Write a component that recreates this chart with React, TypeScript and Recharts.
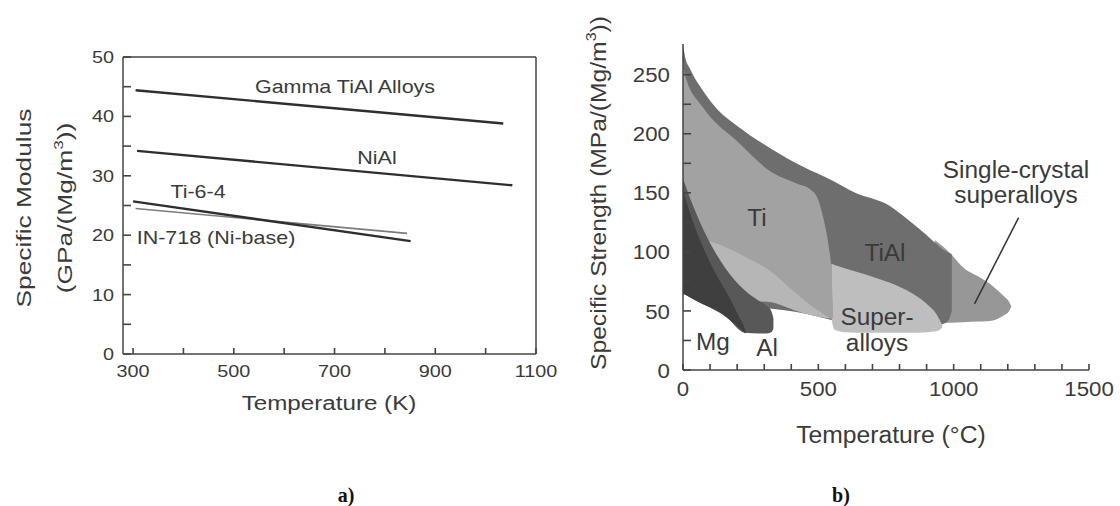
import React from "react";
import { LineChart, ComposedChart, Line, Area, XAxis, YAxis } from "recharts";

// panel a) specific modulus, GPa/(Mg/m3) vs temperature (K)
const gammaTiAl = [{ t: 305, v: 44.4 }, { t: 1035, v: 38.8 }];
const niAl = [{ t: 308, v: 34.2 }, { t: 1053, v: 28.4 }];
const ti64 = [{ t: 300, v: 25.7 }, { t: 851, v: 19.0 }];
const in718 = [{ t: 305, v: 24.5 }, { t: 844, v: 20.3 }];
const aTicksX = [300, 400, 500, 600, 700, 800, 900, 1000, 1100];
const aLabelsX = [300, 500, 700, 900, 1100];
const aTicksY = [0, 5, 10, 15, 20, 25, 30, 35, 40, 45, 50];
const aLabelsY = [0, 10, 20, 30, 40, 50];

// panel b) specific strength bands, [low, high] MPa/(Mg/m3) vs temperature (C)
const singleCrystal = [
  { t: 930, r: [40, 110] }, { t: 991, r: [40, 98] }, { t: 1034, r: [40.5, 87] }, { t: 1096, r: [41, 78.5] },
  { t: 1145, r: [42, 71] }, { t: 1183, r: [46, 63] }, { t: 1205, r: [50, 57.5] }, { t: 1213, r: [53.5, 54] },
];
const tiAl = [
  { t: 0, r: [64, 276] }, { t: 8, r: [64, 265] }, { t: 26, r: [63, 255] }, { t: 75, r: [60, 236] },
  { t: 130, r: [57, 220] }, { t: 198, r: [55, 207] }, { t: 321, r: [52, 188] }, { t: 444, r: [48, 172] },
  { t: 555, r: [42, 160] }, { t: 636, r: [38, 150] }, { t: 763, r: [38, 139] }, { t: 827, r: [38, 128] },
  { t: 891, r: [38, 116] }, { t: 930, r: [38, 108] }, { t: 960, r: [39, 102] }, { t: 980, r: [42, 99.5] },
  { t: 993, r: [50, 98] },
];
const superalloys = [
  { t: 548, r: [44, 90] }, { t: 560, r: [34, 89] }, { t: 600, r: [32, 86] }, { t: 700, r: [31.5, 79] },
  { t: 830, r: [31.5, 67] }, { t: 900, r: [32, 56] }, { t: 940, r: [33, 46] }, { t: 958, r: [36, 38] },
];
const ti = [
  { t: 0, r: [64, 262] }, { t: 7, r: [64, 250] }, { t: 75, r: [61, 222] }, { t: 198, r: [59, 194] },
  { t: 331, r: [57.5, 167] }, { t: 420, r: [50, 158] }, { t: 470, r: [47, 153] }, { t: 500, r: [45.5, 144] },
  { t: 522, r: [44.5, 125] }, { t: 538, r: [44, 105] }, { t: 548, r: [43.5, 85] }, { t: 554, r: [43.5, 55] },
];
const tiLow = [
  { t: 80, r: [62, 110] }, { t: 124, r: [61, 107] }, { t: 220, r: [59, 97] }, { t: 321, r: [57.5, 84] },
  { t: 407, r: [51, 67] }, { t: 470, r: [46.5, 55] }, { t: 542, r: [43.5, 44] },
];
const al = [
  { t: 0, r: [65, 162] }, { t: 39, r: [60, 138] }, { t: 90, r: [54, 112] }, { t: 154, r: [46, 87] },
  { t: 230, r: [31.5, 67] }, { t: 281, r: [31, 58.5] }, { t: 306, r: [31, 55] }, { t: 326, r: [32, 50] },
  { t: 334, r: [35, 44] },
];
const mg = [
  { t: 0, r: [65, 152] }, { t: 30, r: [61, 130] }, { t: 70, r: [56, 106] }, { t: 120, r: [51, 82] },
  { t: 170, r: [43, 62] }, { t: 205, r: [36.5, 46] }, { t: 225, r: [32, 37] }, { t: 232, r: [31, 32] },
];
const leader = [{ t: 1077, v: 56 }, { t: 1240, v: 129 }];
const bTicksX = [0, 100, 200, 300, 400, 500, 600, 700, 800, 900, 1000, 1100, 1200, 1300, 1400, 1500];
const bLabelsX = [0, 500, 1000, 1500];
const bTicksY = [0, 25, 50, 75, 100, 125, 150, 175, 200, 225, 250];
const bLabelsY = [0, 50, 100, 150, 200, 250];

const FONT = "'Liberation Sans', Arial, sans-serif";
const TXT = "#3a3a3a";
const AX = "#444";

// inward tick mark plus optional label
const tick = (dx: number, dy: number, labels: number[], lx: number, ly: number, anchor: string, size: number, s: number) =>
  (p: any) => {
    const x = Number(p.x);
    const y = Number(p.y);
    const v = p.payload.value;
    return (
      <g>
        <path d={`M${x},${y}L${x + dx},${y + dy}`} stroke={AX} strokeWidth={1.6} fill="none" />
        {labels.includes(v) && (
          <text transform={`translate(${x + lx},${y + ly}) scale(${s},1)`} textAnchor={anchor} dy="0.36em"
            fontSize={size} fontFamily={FONT} fill={TXT}>{v}</text>
        )}
      </g>
    );
  };

const Lbl = ({ x, y, size, s = 1, rot = false, bold = false, serif = false, children }: any) => (
  <div style={{
    position: "absolute", left: x, top: y, whiteSpace: "nowrap", lineHeight: 1, fontSize: size,
    fontFamily: serif ? "'Liberation Serif', 'Times New Roman', serif" : FONT, fontWeight: bold ? 700 : 400,
    color: serif ? "#111" : TXT,
    transform: `translate(-50%,-50%) ${rot ? "rotate(-90deg) " : ""}scaleX(${s})`,
  }}>{children}</div>
);

const axisCommon = { tickSize: 0, tickMargin: 0, tickLine: false, interval: 0 as const, stroke: AX, strokeWidth: 1.5 };
const sup3 = <sup style={{ fontSize: "0.65em", verticalAlign: "0.7em" }}>3</sup>;

export default function App() {
  return (
    <div style={{ position: "absolute", left: 0, top: 0, width: 1120, height: 506, background: "#fff", overflow: "hidden" }}>
      <div style={{ position: "absolute", left: 0, top: 0 }}>
        <LineChart width={560} height={420} margin={{ top: 56, right: 23, bottom: 0, left: 0 }}>
          <Line xAxisId="b" yAxisId="l" data={gammaTiAl} dataKey="v" stroke="#2e2e2e" strokeWidth={2.4} dot={false} isAnimationActive={false} />
          <Line xAxisId="b" yAxisId="l" data={niAl} dataKey="v" stroke="#2e2e2e" strokeWidth={2.4} dot={false} isAnimationActive={false} />
          <Line xAxisId="b" yAxisId="l" data={in718} dataKey="v" stroke="#7c7c7c" strokeWidth={1.6} dot={false} isAnimationActive={false} />
          <Line xAxisId="b" yAxisId="l" data={ti64} dataKey="v" stroke="#2e2e2e" strokeWidth={2.4} dot={false} isAnimationActive={false} />
          <XAxis xAxisId="b" type="number" dataKey="t" domain={[280, 1100]} ticks={aTicksX} height={66}
            {...axisCommon} tick={tick(0, -6, aLabelsX, 0, 17, "middle", 16.5, 1.2)} />
          <XAxis xAxisId="t" orientation="top" type="number" dataKey="t" domain={[280, 1100]} ticks={aTicksX} height={1}
            {...axisCommon} tick={tick(0, 7, [], 0, 0, "middle", 16, 1)} />
          <YAxis yAxisId="l" type="number" domain={[0, 50]} ticks={aTicksY} width={123}
            {...axisCommon} tick={tick(8, 0, aLabelsY, -9, 0, "end", 16.5, 1.2)} />
          <YAxis yAxisId="r" orientation="right" type="number" domain={[0, 50]} ticks={aTicksY} width={1}
            {...axisCommon} tick={tick(-8, 0, [], 0, 0, "end", 16, 1)} />
        </LineChart>
      </div>

      <div style={{ position: "absolute", left: 580, top: 0 }}>
        <ComposedChart width={540} height={420} margin={{ top: 44, right: 31, bottom: 0, left: 0 }}>
          <Area data={singleCrystal} dataKey="r" type="monotone" stroke="none" fill="#979797" fillOpacity={1} isAnimationActive={false} />
          <Area data={tiAl} dataKey="r" type="monotone" stroke="none" fill="#6e6e6e" fillOpacity={1} isAnimationActive={false} />
          <Area data={superalloys} dataKey="r" type="monotone" stroke="none" fill="#bebebe" fillOpacity={1} isAnimationActive={false} />
          <Area data={ti} dataKey="r" type="monotone" stroke="none" fill="#a2a2a2" fillOpacity={1} isAnimationActive={false} />
          <Area data={tiLow} dataKey="r" type="monotone" stroke="none" fill="#b6b6b6" fillOpacity={1} isAnimationActive={false} />
          <Area data={al} dataKey="r" type="monotone" stroke="none" fill="#585858" fillOpacity={1} isAnimationActive={false} />
          <Area data={mg} dataKey="r" type="monotone" stroke="none" fill="#3f3f3f" fillOpacity={1} isAnimationActive={false} />
          <Line data={leader} dataKey="v" stroke="#333" strokeWidth={1.5} dot={false} isAnimationActive={false} />
          <XAxis type="number" dataKey="t" domain={[0, 1500]} ticks={bTicksX} height={50}
            {...axisCommon} tick={tick(0, -6, bLabelsX, 0, 18, "middle", 21, 1.06)} />
          <YAxis type="number" domain={[0, 275]} ticks={bTicksY} width={103}
            {...axisCommon} tick={tick(8, 0, bLabelsY, -13, 0, "end", 21, 1.06)} />
        </ComposedChart>
      </div>

      {/* panel a) texts */}
      <Lbl x={345} y={87} size={18.5} s={1.16}>Gamma TiAl Alloys</Lbl>
      <Lbl x={377} y={158} size={18.5} s={1.16}>NiAl</Lbl>
      <Lbl x={198} y={192} size={18.5} s={1.16}>Ti-6-4</Lbl>
      <Lbl x={216} y={238} size={18.5} s={1.16}>IN-718 (Ni-base)</Lbl>
      <Lbl x={25} y={208} size={19.5} s={1.35} rot>Specific Modulus</Lbl>
      <Lbl x={64} y={208} size={19.5} s={1.35} rot>(GPa/(Mg/m{sup3}))</Lbl>
      <Lbl x={329} y={404} size={19.5} s={1.24}>Temperature (K)</Lbl>

      {/* panel b) texts */}
      <Lbl x={757} y={218} size={23} s={1.06}>Ti</Lbl>
      <Lbl x={885} y={253} size={23} s={1.06}>TiAl</Lbl>
      <Lbl x={713} y={342} size={23} s={1.06}>Mg</Lbl>
      <Lbl x={767} y={348} size={23} s={1.06}>Al</Lbl>
      <Lbl x={877} y={317} size={23} s={1.06}>Super-</Lbl>
      <Lbl x={877} y={343} size={23} s={1.06}>alloys</Lbl>
      <Lbl x={1016} y={170} size={23} s={1.06}>Single-crystal</Lbl>
      <Lbl x={1016} y={195} size={23} s={1.06}>superalloys</Lbl>
      <Lbl x={597} y={193} size={22} s={1.12} rot>Specific Strength (MPa/(Mg/m{sup3}))</Lbl>
      <Lbl x={891} y={436} size={23.5} s={1.05}>Temperature (°C)</Lbl>

      <Lbl x={346} y={495} size={20} bold serif>a)</Lbl>
      <Lbl x={841} y={495} size={20} bold serif>b)</Lbl>
    </div>
  );
}
